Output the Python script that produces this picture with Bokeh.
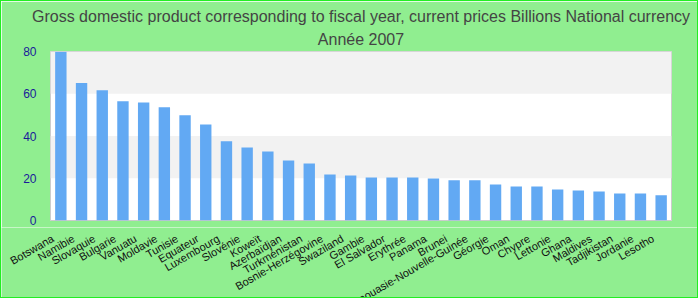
from bokeh.plotting import figure
from bokeh.layouts import column
from bokeh.models import Title, Range1d, FactorRange, FixedTicker
from bokeh.core.properties import value
from bokeh.embed import file_html
from bokeh.resources import INLINE
import math

countries = ["Botswana", "Namibie", "Slovaquie", "Bulgarie", "Vanuatu", "Moldavie",
             "Tunisie", "Equateur", "Luxembourg", "Slovénie", "Koweït", "Azerbaïdjan",
             "Turkménistan", "Bosnie-Herzégovine", "Swaziland", "Gambie", "El Salvador",
             "Erythrée", "Panama", "Brunei", "Papouasie-Nouvelle-Guinée", "Géorgie",
             "Oman", "Chypre", "Lettonie", "Ghana", "Maldives", "Tadjikistan",
             "Jordanie", "Lesotho"]
gdp = [79.9, 65.1, 61.6, 56.4, 55.9, 53.6, 49.8, 45.5, 37.5, 34.6,
       32.7, 28.4, 27.0, 21.8, 21.3, 20.4, 20.4, 20.4, 19.9, 19.0,
       19.0, 17.1, 16.1, 16.1, 14.7, 14.2, 13.7, 12.8, 12.8, 11.9]
y_ticks = [0, 20, 40, 60, 80]

title_line1 = "Gross domestic product corresponding to fiscal year, current prices Billions National currency"
title_line2 = "Année 2007"

GREEN_BG = "#90EE90"
BORDER = "1px solid #22ee22"
LEFT, RIGHT, W = 49, 28, 698
TOP_H, BOT_H = 227, 71
n = len(countries)

# ---- bars ----
p = figure(width=W, height=TOP_H, x_range=FactorRange(*countries, range_padding=0),
           y_range=Range1d(0, 80), output_backend="svg", toolbar_location=None,
           title=None, min_border_left=LEFT, min_border_right=RIGHT, min_border_top=50,
           min_border_bottom=8)
p.frame_align = False

p.vbar(x=countries, top=gdp, width=0.55, color="#62A9F3", line_color=None)

p.add_layout(Title(text=title_line2, align="center", text_font="Liberation Sans",
                   text_font_size="16px", text_font_style="normal", text_color="#444444",
                   standoff=8), "above")
p.add_layout(Title(text=title_line1, align="center", text_font="Liberation Sans",
                   text_font_size="16px", text_font_style="normal", text_color="#444444",
                   standoff=0), "above")

p.background_fill_color = "white"
p.border_fill_color = GREEN_BG
p.outline_line_color = "#cccccc"
p.outline_line_width = 1
p.styles = {"border-top": BORDER, "border-left": BORDER, "border-right": BORDER}

p.xgrid.grid_line_color = None
p.ygrid.grid_line_color = None
p.ygrid.band_fill_color = "#f2f2f2"
p.ygrid.band_fill_alpha = 1.0
p.yaxis.ticker = FixedTicker(ticks=y_ticks)
p.xaxis.visible = False

p.yaxis.axis_line_color = None
p.yaxis.major_tick_line_color = None
p.yaxis.minor_tick_line_color = None
p.yaxis.major_label_text_color = "#1a1a9a"
p.yaxis.major_label_text_font = "Liberation Sans"
p.yaxis.major_label_text_font_size = "12px"
p.yaxis.major_label_standoff = 8

# ---- category labels strip (same pixel scale as the bar frame) ----
step = (W - LEFT - RIGHT) / n
q = figure(width=W, height=BOT_H, x_range=Range1d(-LEFT / step, n + RIGHT / step),
           y_range=Range1d(-BOT_H, 0), output_backend="svg", toolbar_location=None,
           min_border=0, title=None)
q.frame_align = False
q.axis.visible = False
q.grid.visible = False
q.outline_line_color = None
q.background_fill_color = GREEN_BG
q.border_fill_color = GREEN_BG
q.styles = {"border-bottom": BORDER, "border-left": BORDER, "border-right": BORDER}

q.text(x=[i + 0.5 for i in range(n)], y=[-10] * n, text=countries, angle=math.pi / 6,
       text_align="right", text_baseline="middle", x_offset=-8,
       text_font=value("Liberation Sans"), text_font_size="11px", text_color="#111111")

layout = column(p, q, spacing=0)
open("out.html", "w").write(file_html(layout, INLINE))
